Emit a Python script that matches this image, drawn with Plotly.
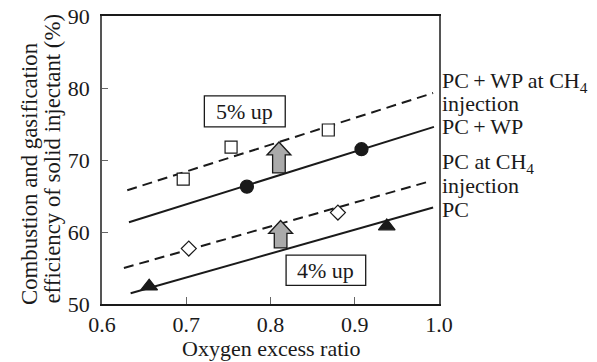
import plotly.graph_objects as go

# Measured efficiencies vs. oxygen excess ratio
pc_x = [0.656, 0.938]
pc_y = [52.45, 60.8]
pc_ch4_x = [0.703, 0.880]
pc_ch4_y = [57.7, 62.7]
pcwp_x = [0.772, 0.908]
pcwp_y = [66.3, 71.5]
pcwp_ch4_x = [0.6964, 0.7532, 0.8686]
pcwp_ch4_y = [67.33, 71.8, 74.17]

# Trend lines (start / end)
pc_fit_x = [0.634, 0.993]
pc_fit_y = [51.5, 63.4]
pc_ch4_fit_x = [0.626, 0.991]
pc_ch4_fit_y = [55.0, 67.1]
pcwp_fit_x = [0.632, 0.994]
pcwp_fit_y = [61.35, 74.6]
pcwp_ch4_fit_x = [0.630, 0.993]
pcwp_ch4_fit_y = [65.8, 79.3]

# Improvement arrows: x, base, tip
arrow_x = [0.810, 0.812]
arrow_base = [68.2, 57.8]
arrow_tip = [72.5, 61.6]

x_ticks = [0.6, 0.7, 0.8, 0.9, 1.0]
x_tick_text = ["0.6", "0.7", "0.8", "0.9", "1.0"]
y_ticks = [50, 60, 70, 80, 90]
y_tick_text = ["50", "60", "70", "80", "90"]

FONT = "Liberation Serif, Times New Roman, serif"
INK = "#1a1a1a"
FS = 22
TS = "\u2009"  # thin space around the plus sign

fig = go.Figure()

def trend(x, y, dash):
    fig.add_trace(go.Scatter(x=x, y=y, mode="lines",
                             line=dict(color=INK, width=2, dash=dash),
                             hoverinfo="skip", showlegend=False))

trend(pcwp_ch4_fit_x, pcwp_ch4_fit_y, "10px,6px")
trend(pcwp_fit_x, pcwp_fit_y, "solid")
trend(pc_ch4_fit_x, pc_ch4_fit_y, "10px,6px")
trend(pc_fit_x, pc_fit_y, "solid")

def pts(x, y, symbol, size, fill):
    fig.add_trace(go.Scatter(x=x, y=y, mode="markers",
                             marker=dict(symbol=symbol, size=size, color=fill,
                                         line=dict(color=INK, width=1.2)),
                             showlegend=False))

pts(pcwp_ch4_x, pcwp_ch4_y, "square", 12, "white")
pts(pcwp_x, pcwp_y, "circle", 13, INK)
pts(pc_ch4_x, pc_ch4_y, "diamond", 11.5, "white")
pts(pc_x, pc_y, "triangle-up", 14.5, INK)

# Block arrows drawn in data units
shaft_half = 0.0075
head_half = 0.0142
head_len = 1.8
for xc, yb, yt in zip(arrow_x, arrow_base, arrow_tip):
    yh = yt - head_len
    path = (f"M{xc - shaft_half},{yb} L{xc + shaft_half},{yb} L{xc + shaft_half},{yh} "
            f"L{xc + head_half},{yh} L{xc},{yt} L{xc - head_half},{yh} "
            f"L{xc - shaft_half},{yh} Z")
    fig.add_shape(type="path", path=path, xref="x", yref="y",
                  fillcolor="#aaaaaa", line=dict(color=INK, width=1.3))

# Boxed callouts
boxes = [("5% up", 0.7215, 0.8175, 74.6, 78.9),
         ("4% up", 0.8185, 0.913, 52.6, 56.8)]
for text, x0, x1, y0, y1 in boxes:
    fig.add_shape(type="rect", x0=x0, x1=x1, y0=y0, y1=y1, xref="x", yref="y",
                  fillcolor="white", line=dict(color=INK, width=1.3))
    fig.add_annotation(x=(x0 + x1) / 2, y=(y0 + y1) / 2, text=text, showarrow=False,
                       xanchor="center", yanchor="middle",
                       font=dict(family=FONT, size=FS, color=INK))

# Series labels to the right of the plot
right_labels = [(f"PC{TS}+{TS}WP at CH<sub>4</sub>", 80.8), ("injection", 77.9),
                (f"PC{TS}+{TS}WP", 74.6), ("PC at CH<sub>4</sub>", 69.6),
                ("injection", 66.5), ("PC", 63.1)]
for text, yv in right_labels:
    fig.add_annotation(x=1.0, y=yv, xref="x", yref="y", text=text, showarrow=False,
                       xanchor="left", yanchor="middle", xshift=1,
                       font=dict(family=FONT, size=FS, color=INK))

# Two-line y-axis title (lines start level at the bottom of the axis)
YS = 22.8
fig.add_annotation(x=0, y=0, xref="paper", yref="paper", xanchor="center",
                   yanchor="middle", xshift=-73, yshift=130, textangle=-90,
                   text="Combustion and gasification", showarrow=False,
                   font=dict(family=FONT, size=YS, color=INK))
fig.add_annotation(x=0, y=0, xref="paper", yref="paper", xanchor="center",
                   yanchor="middle", xshift=-50, yshift=145.5, textangle=-90,
                   text="efficiency of solid injectant (%)", showarrow=False,
                   font=dict(family=FONT, size=YS, color=INK))

# x-axis title
fig.add_annotation(x=0.5, y=0, xref="paper", yref="paper", xanchor="center",
                   yanchor="middle", yshift=-44, text="Oxygen excess ratio",
                   showarrow=False, font=dict(family=FONT, size=FS, color=INK))

fig.update_layout(
    width=597, height=362,
    margin=dict(l=102, r=158, t=16, b=58, autoexpand=False),
    paper_bgcolor="white", plot_bgcolor="white",
    font=dict(family=FONT, size=FS, color=INK),
    showlegend=False,
    xaxis=dict(range=[0.6, 1.0], tickvals=x_ticks, ticktext=x_tick_text,
               ticks="inside", ticklen=7, tickwidth=1, tickcolor="#666",
               showline=True, linecolor=INK, linewidth=1.5, mirror=True,
               showgrid=False, zeroline=False, ticklabelstandoff=0,
               automargin=False),
    yaxis=dict(range=[50, 90], tickvals=y_ticks, ticktext=y_tick_text,
               ticks="inside", ticklen=6, tickwidth=1, tickcolor="#666",
               showline=True, linecolor="#555", linewidth=1.5, mirror=True,
               showgrid=False, zeroline=False, ticklabelstandoff=6,
               automargin=False),
)

fig.write_html("out.html")
